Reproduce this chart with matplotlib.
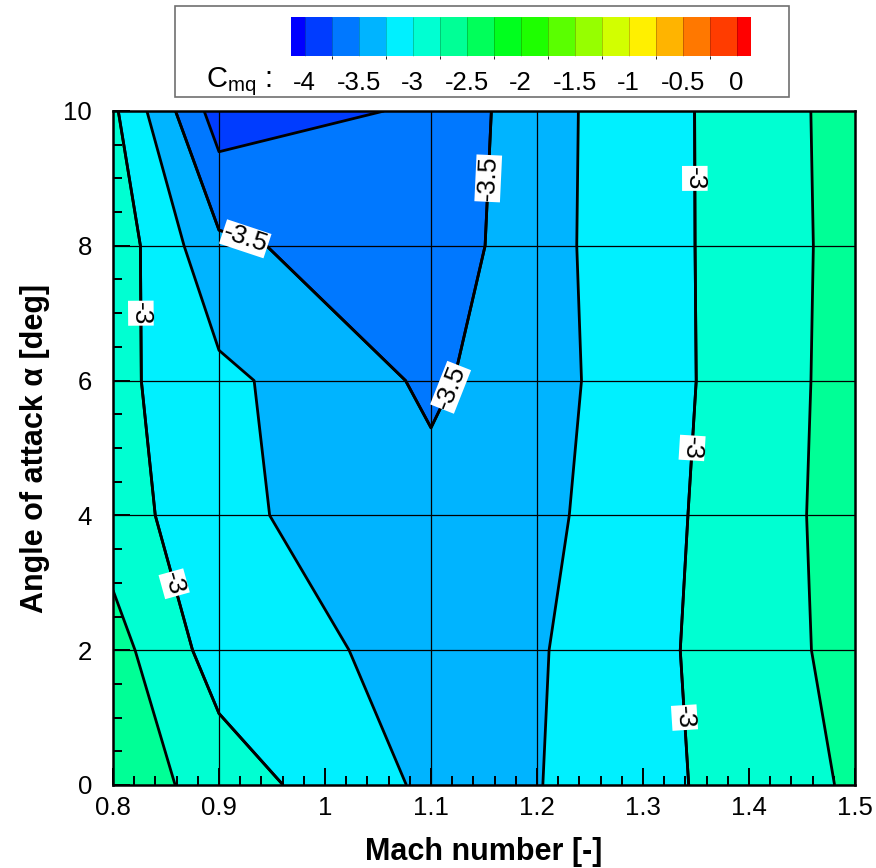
import numpy as np
import matplotlib
matplotlib.use("Agg")
import matplotlib.pyplot as plt
from matplotlib.colors import LinearSegmentedColormap, ListedColormap, BoundaryNorm
from matplotlib.patches import Rectangle
from matplotlib.ticker import MultipleLocator

plt.rcParams['font.family'] = ['Liberation Sans', 'DejaVu Sans']
plt.rcParams['axes.unicode_minus'] = False
plt.rcParams['contour.negative_linestyle'] = 'solid'
plt.rcParams['mathtext.fontset'] = 'custom'
plt.rcParams['mathtext.rm'] = 'Liberation Sans'
plt.rcParams['mathtext.it'] = 'Liberation Sans:italic'
plt.rcParams['mathtext.bf'] = 'Liberation Sans:bold'

# ---- data (mesh nodes) ----
mach = [0.8, 0.9, 1.1, 1.2, 1.5]
alpha = [0, 2, 4, 6, 8, 10]
cmq_a0 = [-2.58, -2.87, -3.30, -3.26, -2.715]
cmq_a2 = [-2.654, -3.115, -3.335, -3.273, -2.667]
cmq_a4 = [-2.87, -3.196, -3.422, -3.318, -2.648]
cmq_a6 = [-2.93, -3.192, -3.542, -3.347, -2.654]
cmq_a8 = [-2.843, -3.45, -3.673, -3.334, -2.662]
cmq_a10 = [-2.954, -3.88, -3.713, -3.339, -2.655]
levels = [-4 + 0.25 * i for i in range(17)]
cbar_ticks = [-4, -3.5, -3, -2.5, -2, -1.5, -1, -0.5, 0]
cbar_ticklabels = ['-4', '-3.5', '-3', '-2.5', '-2', '-1.5', '-1', '-0.5', '0']
label_levels = [-3.5, -3]
label_pos = [(0.8255, 7.0), (0.861, 3.0), (1.347, 9.0), (1.347, 5.0), (1.339, 1.0),
             (0.9245, 8.09), (1.154, 9.0), (1.112, 5.95)]

Z = np.array([cmq_a0, cmq_a2, cmq_a4, cmq_a6, cmq_a8, cmq_a10])
M, A = np.meshgrid(mach, alpha)

# Tecplot-like "small rainbow"
base = LinearSegmentedColormap.from_list(
    'smallrainbow', ['#0000ff', '#00ffff', '#00ff00', '#ffff00', '#ff0000'])
ncol = len(levels) + 1
cols = [base(i / (ncol - 1)) for i in range(ncol)]
cmap = ListedColormap(cols[1:-1])
cmap.set_under(cols[0])
cmap.set_over(cols[-1])
norm = BoundaryNorm(levels, cmap.N)

W, H = 876, 868
fig = plt.figure(figsize=(W / 100, H / 100), dpi=100)

# legend box (behind colorbar)
fig.patches.append(Rectangle((175 / W, 1 - 97 / H), (789 - 175) / W, (97 - 6) / H,
                             transform=fig.transFigure, facecolor='white',
                             edgecolor='#707070', linewidth=1.2, zorder=-5))

ax = fig.add_axes([113 / W, 1 - 785 / H, (855 - 113) / W, (785 - 111) / H])

cf = ax.contourf(M, A, Z, levels=levels, cmap=cmap, norm=norm, extend='both')
ax.vlines(mach[1:-1], alpha[0], alpha[-1], colors='k', linewidth=0.9, zorder=2)
ax.hlines(alpha[1:-1], mach[0], mach[-1], colors='k', linewidth=0.9, zorder=2)
cs = ax.contour(M, A, Z, levels=levels, colors='k', linewidths=2.0,
                linestyles='solid', zorder=3)
cs_lab = ax.contour(M, A, Z, levels=label_levels, colors='k', linewidths=2.0,
                    linestyles='solid', zorder=3)
lbls = ax.clabel(cs_lab, manual=label_pos, fmt='%g', inline=False, fontsize=19)
for t in lbls:
    t.set_bbox(dict(facecolor='white', edgecolor='none', pad=0.5))
    t.set_zorder(5)
    if t.get_text() == '-3':
        r = t.get_rotation() % 360
        if 0 < r < 180:
            t.set_rotation(r - 180)

ax.set_xlim(mach[0], mach[-1])
ax.set_ylim(alpha[0], alpha[-1])
ax.xaxis.set_major_locator(MultipleLocator(0.1))
ax.xaxis.set_minor_locator(MultipleLocator(0.02))
ax.yaxis.set_major_locator(MultipleLocator(2))
ax.yaxis.set_minor_locator(MultipleLocator(0.5))
ax.xaxis.set_major_formatter(matplotlib.ticker.FuncFormatter(lambda v, p: f'{v:g}'))
ax.tick_params(which='both', direction='in', top=False, right=False, labelsize=18.5,
               width=1.4, zorder=6)
ax.tick_params(which='major', length=12)
ax.tick_params(which='minor', length=6.5)
ax.tick_params(axis='x', which='major', pad=8)
ax.tick_params(axis='y', which='major', pad=15)
for s in ax.spines.values():
    s.set_linewidth(1.8)
    s.set_zorder(7)
ax.set_xlabel('Mach number [-]', fontsize=22, fontweight='bold', labelpad=12)
ax.set_ylabel('Angle of attack α [deg]', fontsize=22, fontweight='bold', labelpad=10)

cax = fig.add_axes([290.7 / W, 1 - 56 / H, 460 / W, 39.3 / H])
cb = fig.colorbar(cf, cax=cax, orientation='horizontal', extend='both',
                  extendrect=True, extendfrac=0.0325, drawedges=True)
cb.outline.set_visible(False)
cb.dividers.set_color((0, 0, 0, 0.3))
cb.dividers.set_linewidth(0.5)
cb.set_ticks(cbar_ticks)
cb.set_ticklabels(cbar_ticklabels)
cax.tick_params(length=0, pad=11, labelsize=18.5)
fig.text(206 / W, 1 - 87 / H, r'$\mathrm{C}_{\mathrm{mq}}$ :', fontsize=21,
         va='baseline', ha='left')

fig.savefig('out.png', dpi=100)
